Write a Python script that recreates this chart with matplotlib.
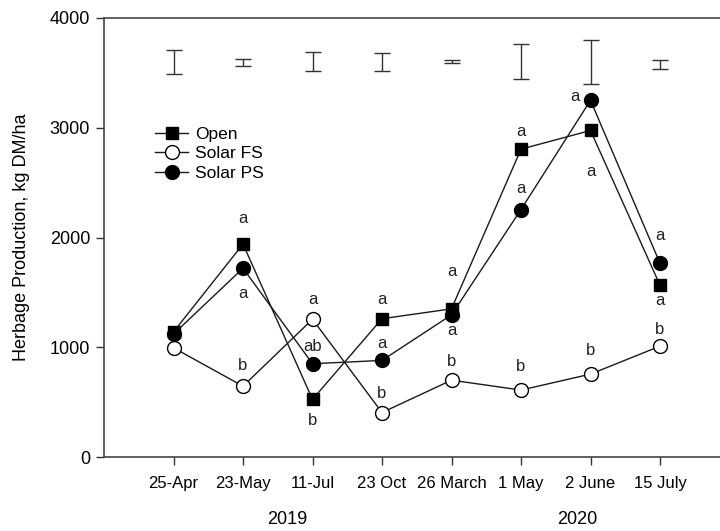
import matplotlib
matplotlib.use("Agg")
import matplotlib.pyplot as plt
import numpy as np

plt.rcParams['font.family'] = ['Liberation Sans', 'DejaVu Sans']

dates = ["25-Apr", "23-May", "11-Jul", "23 Oct", "26 March", "1 May", "2 June", "15 July"]
open_vals = [1140, 1940, 525, 1260, 1350, 2805, 2975, 1565]
fs_vals = [995, 645, 1255, 405, 700, 610, 755, 1010]
ps_vals = [1120, 1720, 850, 880, 1295, 2255, 3250, 1765]
err_center = [3598, 3595, 3602, 3600, 3600, 3603, 3599, 3579]
err_half = [112, 33, 88, 83, 14, 162, 197, 41]

# letter annotations: (index, value, text, dx)
letters = [
    (1, 2173, "a", 0), (1, 1489, "a", 0), (1, 836, "b", 0),
    (2, 1438, "a", 0), (2, 1003, "ab", 0), (2, 334, "b", 0),
    (3, 1435, "a", 0), (3, 1033, "a", 0), (3, 577, "b", 0),
    (4, 1687, "a", 0), (4, 1149, "a", 0), (4, 872, "b", 0),
    (5, 2970, "a", 0), (5, 2450, "a", 0), (5, 821, "b", 0),
    (6, 3281, "a", -0.22), (6, 2601, "a", 0), (6, 967, "b", 0),
    (7, 2021, "a", 0), (7, 1429, "a", 0), (7, 1161, "b", 0),
]

x = np.arange(1, len(dates) + 1)

fig = plt.figure(figsize=(7.2, 5.31), dpi=100)
ax = fig.add_axes([104/720, 1 - 457/531, (720 - 104)/720, (457 - 18)/531])

lc = '#1a1a1a'
ax.plot(x, open_vals, '-', color=lc, lw=1.0, marker='s', ms=9, mfc='black', mec='black', label='Open', zorder=3)
ax.plot(x, fs_vals, '-', color=lc, lw=1.0, marker='o', ms=10, mfc='white', mec='black', mew=1.0, label='Solar FS', zorder=3)
ax.plot(x, ps_vals, '-', color=lc, lw=1.0, marker='o', ms=10, mfc='black', mec='black', label='Solar PS', zorder=3)

ax.errorbar(x, err_center, yerr=err_half, fmt='none', ecolor='#333333', elinewidth=1.0, capsize=6, capthick=1.0)

for i, v, t, dx in letters:
    ax.text(x[i] + dx, v, t, ha='center', va='center', fontsize=12, color='#222222')

ax.set_xlim(0, (720 - 104) / 69.5)
ax.set_ylim(0, 4000)
ax.set_xticks(x)
ax.set_xticklabels(dates, fontsize=12)
ax.set_yticks([0, 1000, 2000, 3000, 4000])
ax.set_yticklabels(['0', '1000', '2000', '3000', '4000'], fontsize=13)
ax.tick_params(direction='out', length=6, width=1.0, color='#333333', pad=8)
ax.tick_params(axis='y', pad=4)
for s in ['left', 'bottom', 'top']:
    ax.spines[s].set_color('#444444')
    ax.spines[s].set_linewidth(1.2)
ax.spines['right'].set_visible(False)

ax.set_ylabel('Herbage Production, kg DM/ha', fontsize=13, labelpad=14)

fig.text(287/720, 1 - 520/531, '2019', ha='center', va='center', fontsize=13)
fig.text(577/720, 1 - 520/531, '2020', ha='center', va='center', fontsize=13)

ax.legend(loc='upper left', bbox_to_anchor=(0.072, 0.768), frameon=False, fontsize=12.5,
          handlelength=1.9, handletextpad=0.4, labelspacing=0.25, borderaxespad=0)

fig.savefig('out.png', dpi=100)
